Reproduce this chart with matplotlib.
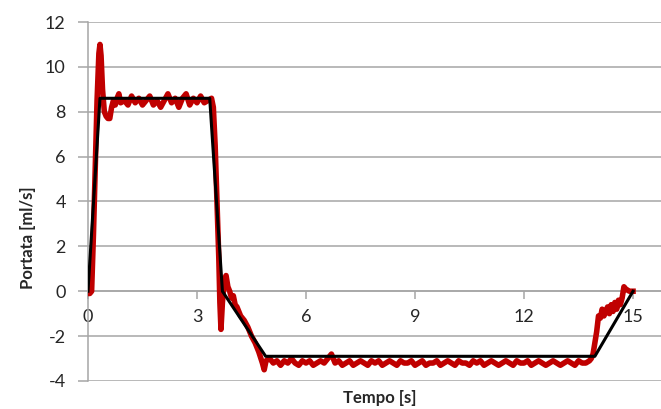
import matplotlib
matplotlib.use("Agg")
import matplotlib.pyplot as plt

# measured flow (red trace)
t_meas = [
    0.00, 0.05, 0.10, 0.15, 0.20, 0.25, 0.30, 0.33, 0.36, 0.40,
    0.45, 0.50, 0.55, 0.60, 0.65, 0.70, 0.75, 0.80, 0.85, 0.90,
    1.00, 1.10, 1.20, 1.30, 1.40, 1.50, 1.60, 1.70, 1.80, 1.90,
    2.00, 2.10, 2.20, 2.30, 2.40, 2.50, 2.60, 2.70, 2.80, 2.90,
    3.00, 3.10, 3.20, 3.30, 3.40, 3.45, 3.50, 3.55, 3.60, 3.63,
    3.66, 3.70, 3.75, 3.80, 3.85, 3.90, 3.95, 4.00, 4.05, 4.10,
    4.20, 4.30, 4.40, 4.50, 4.60, 4.70, 4.80, 4.85, 4.90, 5.00,
    5.10, 5.20, 5.30, 5.40, 5.50, 5.60, 5.70, 5.80, 5.90, 6.00,
    6.10, 6.20, 6.30, 6.40, 6.50, 6.60, 6.70, 6.80, 6.90, 7.00,
    7.10, 7.20, 7.30, 7.40, 7.50, 7.60, 7.70, 7.80, 7.90, 8.00,
    8.10, 8.20, 8.30, 8.40, 8.50, 8.60, 8.70, 8.80, 8.90, 9.00,
    9.10, 9.20, 9.30, 9.40, 9.50, 9.60, 9.70, 9.80, 9.90, 10.00,
    10.10, 10.20, 10.30, 10.40, 10.50, 10.60, 10.70, 10.80, 10.90, 11.00,
    11.10, 11.20, 11.30, 11.40, 11.50, 11.60, 11.70, 11.80, 11.90, 12.00,
    12.10, 12.20, 12.30, 12.40, 12.50, 12.60, 12.70, 12.80, 12.90, 13.00,
    13.10, 13.20, 13.30, 13.40, 13.50, 13.60, 13.70, 13.80, 13.85, 13.90,
    13.95, 14.00, 14.05, 14.10, 14.15, 14.20, 14.30, 14.35, 14.40, 14.45,
    14.50, 14.55, 14.60, 14.65, 14.70, 14.75, 14.80, 14.90, 15.00,
]
q_meas = [
    -0.1, -0.1, 0.0, 2.5, 5.5, 8.5, 10.6, 11.0, 10.5, 9.0,
    8.0, 7.8, 7.7, 7.7, 8.2, 8.5, 8.3, 8.6, 8.8, 8.4,
    8.5, 8.3, 8.7, 8.4, 8.6, 8.3, 8.5, 8.7, 8.3, 8.5,
    8.2, 8.5, 8.8, 8.4, 8.6, 8.2, 8.6, 8.8, 8.3, 8.6,
    8.4, 8.7, 8.4, 8.5, 8.6, 8.2, 6.5, 4.0, 1.5, -0.5,
    -1.7, -0.5, 0.5, 0.7, 0.2, 0.0, -0.3, -0.2, -0.6, -0.7,
    -1.1, -1.3, -1.6, -2.0, -2.3, -2.7, -3.2, -3.5, -3.1, -3.0,
    -3.2, -3.1, -3.3, -3.1, -3.2, -3.0, -3.2, -3.3, -3.1, -3.2,
    -3.1, -3.3, -3.2, -3.1, -3.2, -3.0, -2.8, -3.2, -3.1, -3.3,
    -3.2, -3.1, -3.3, -3.2, -3.1, -3.2, -3.3, -3.1, -3.2, -3.1,
    -3.3, -3.2, -3.1, -3.2, -3.3, -3.1, -3.2, -3.2, -3.1, -3.3,
    -3.2, -3.1, -3.3, -3.2, -3.2, -3.1, -3.3, -3.2, -3.1, -3.2,
    -3.3, -3.1, -3.2, -3.2, -3.3, -3.1, -3.2, -3.1, -3.3, -3.2,
    -3.1, -3.2, -3.3, -3.2, -3.1, -3.2, -3.3, -3.1, -3.2, -3.2,
    -3.1, -3.3, -3.2, -3.1, -3.2, -3.3, -3.2, -3.1, -3.2, -3.3,
    -3.2, -3.1, -3.2, -3.3, -3.1, -3.2, -3.2, -3.1, -3.0, -2.8,
    -2.3, -1.8, -1.1, -1.2, -0.8, -1.1, -0.7, -1.0, -0.6, -0.9,
    -0.5, -0.8, -0.4, -0.6, -0.3, 0.2, 0.1, 0.0, 0.0,
]

# reference profile (black)
t_ref = [0.0, 0.33, 3.35, 3.70, 4.89, 13.95, 15.0]
q_ref = [0.0, 8.6, 8.6, 0.0, -2.9, -2.9, 0.0]

x_ticks = [0, 3, 6, 9, 12, 15]
y_ticks = [-4, -2, 0, 2, 4, 6, 8, 10, 12]

grid_col = "#a6a6a6"
text_col = "#262626"
plt.rcParams["font.family"] = ["Lato", "DejaVu Sans"]
plt.rcParams["axes.unicode_minus"] = False

fig = plt.figure(figsize=(6.61, 4.09), dpi=100)
ax = fig.add_axes([0.1331, 0.0685, 0.8669, 0.8777])

ax.plot(t_meas, q_meas, color="#c00000", lw=4.0, solid_joinstyle="round", zorder=3)
ax.plot(t_ref, q_ref, color="black", lw=2.2, zorder=4)

ax.set_xlim(0, 15.77)
ax.set_ylim(-4, 12)
ax.set_xticks(x_ticks)
ax.set_yticks(y_ticks)
ax.yaxis.grid(True, color=grid_col, lw=1.1)
ax.set_axisbelow(True)

for s in ("top", "right"):
    ax.spines[s].set_visible(False)
ax.spines["bottom"].set_position(("data", 0))
for s in ("left", "bottom"):
    ax.spines[s].set_color(grid_col)
    ax.spines[s].set_linewidth(1.1)

ax.tick_params(axis="x", direction="out", length=6, width=1.1, color=grid_col,
               labelsize=13, labelcolor=text_col, pad=7)
ax.tick_params(axis="y", direction="out", length=7, width=1.1, color=grid_col,
               labelsize=13, labelcolor=text_col, pad=9)

fig.text(0.042, 0.42, "Portata [ml/s]", rotation=90, ha="center", va="center",
         fontsize=12, fontweight="bold", color=text_col)
fig.text(0.575, 0.027, "Tempo [s]", ha="center", va="center",
         fontsize=12, fontweight="bold", color=text_col)

fig.savefig("out.png", dpi=100)
